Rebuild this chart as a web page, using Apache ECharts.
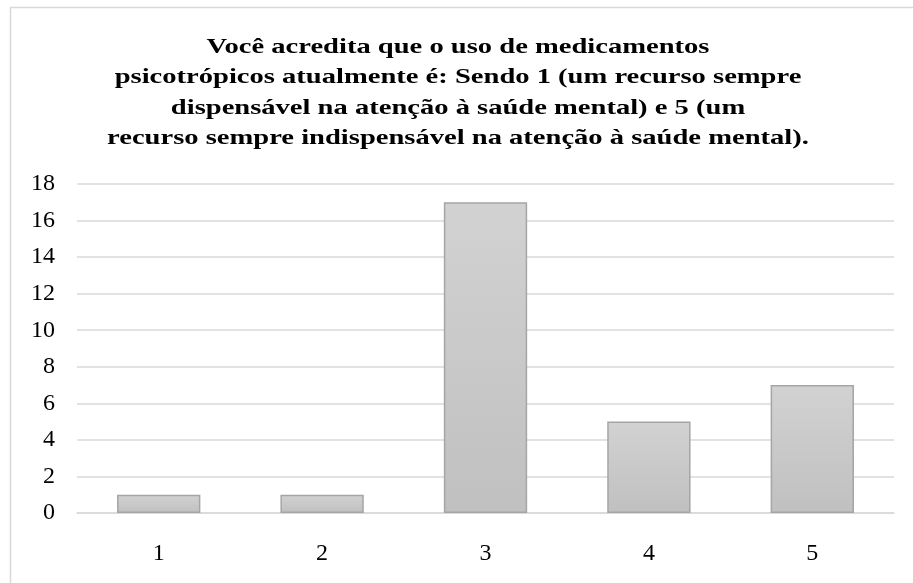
<!DOCTYPE html>
<html>
<head>
<meta charset="utf-8">
<script src="https://cdn.jsdelivr.net/npm/echarts@6/dist/echarts.min.js"></script>
<style>
  html, body { margin: 0; padding: 0; background: #fff; }
  #chart { width: 913px; height: 583px; }
</style>
</head>
<body>
<div id="chart"></div>
<script>
// ── Data ───────────────────────────────────────
var titleLines = [
    'Você acredita que o uso de medicamentos',
    'psicotrópicos atualmente é: Sendo 1 (um recurso sempre',
    'dispensável na atenção à saúde mental) e 5 (um',
    'recurso sempre indispensável na atenção à saúde mental).'
];
var categories = ['1', '2', '3', '4', '5'];
var counts     = [1, 1, 17, 5, 7];

// ── Chart ──────────────────────────────────────
var chart = echarts.init(document.getElementById('chart'), null, { renderer: 'canvas' });
var serif = '"Liberation Serif", "Times New Roman", serif';

chart.setOption({
    backgroundColor: '#ffffff',
    animation: false,
    graphic: [
        // outer chart frame (right/bottom edges fall outside the crop)
        {
            type: 'rect',
            shape: { x: 10.5, y: 7.5, width: 1000, height: 1000 },
            style: { fill: 'none', stroke: '#d9d9d9', lineWidth: 1.5 },
            silent: true
        },
        // title, stretched horizontally like the source
        {
            type: 'text',
            x: 458,
            y: 32,
            scaleX: 1.36,
            silent: true,
            style: {
                text: titleLines.join('\n'),
                x: 0,
                y: 0,
                align: 'center',
                verticalAlign: 'top',
                fontFamily: serif,
                fontWeight: 'bold',
                fontSize: 21,
                lineHeight: 30.5,
                fill: '#000'
            }
        }
    ],
    grid: { left: 77, right: 19, top: 184, bottom: 70, containLabel: false },
    xAxis: {
        type: 'category',
        data: categories,
        axisLine: { lineStyle: { color: '#d9d9d9', width: 1.5 } },
        axisTick: { show: false },
        axisLabel: { fontFamily: serif, fontSize: 24, color: '#000', margin: 29 }
    },
    yAxis: {
        type: 'value',
        min: 0,
        max: 18,
        interval: 2,
        axisLine: { show: false },
        axisTick: { show: false },
        splitLine: { lineStyle: { color: '#d9d9d9', width: 1.5 } },
        axisLabel: { fontFamily: serif, fontSize: 24, color: '#000', margin: 22 }
    },
    series: [{
        type: 'bar',
        data: counts,
        barWidth: '51%',
        itemStyle: {
            color: new echarts.graphic.LinearGradient(0, 0, 0, 1, [
                { offset: 0, color: '#d2d2d2' },
                { offset: 1, color: '#c0c0c0' }
            ]),
            borderColor: '#a5a5a5',
            borderWidth: 1.5
        }
    }]
});
</script>
</body>
</html>
